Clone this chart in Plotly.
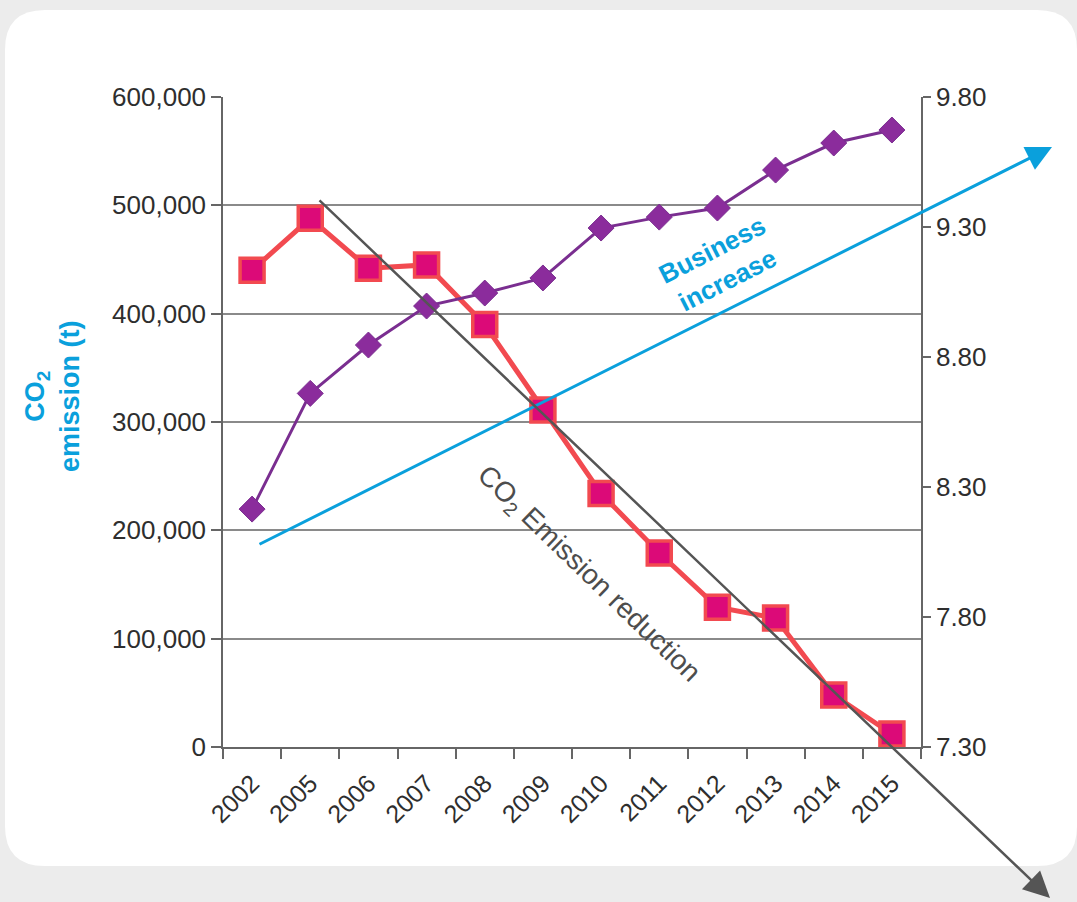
import plotly.graph_objects as go

years = ["2002", "2005", "2006", "2007", "2008", "2009", "2010", "2011", "2012", "2013", "2014", "2015"]
co2_emission = [440000, 488000, 442000, 445000, 390000, 311000, 234000, 179000, 129000, 119000, 48000, 12000]
business = [8.215, 8.66, 8.846, 8.996, 9.046, 9.104, 9.296, 9.338, 9.373, 9.519, 9.623, 9.673]
left_ticks = [0, 100000, 200000, 300000, 400000, 500000, 600000]
right_ticks = [7.30, 7.80, 8.30, 8.80, 9.30, 9.80]
right_ticktext = ["7.30", "7.80", "8.30", "8.80", "9.30", "9.80"]

W, H = 1077, 902
L, R, T, B = 223, 156, 97, 155
PW, PH = W - L - R, H - T - B


def px(x):
    return (x - L) / PW


def py(y):
    return (H - B - y) / PH


FONT = "Liberation Sans, Arial, sans-serif"
BLUE = "#0aa0dc"
GRAY = "#555555"
AXIS = "#666666"
TICK = "#2e2e2e"

fig = go.Figure()

fig.add_trace(go.Scatter(
    x=years, y=co2_emission, mode="lines+markers", name="CO2 emission",
    line=dict(color="#f24a50", width=5),
    marker=dict(symbol="square", size=24, color="#dc0a78",
                line=dict(color="#f24a50", width=3.5)),
    yaxis="y", showlegend=False,
))
fig.add_trace(go.Scatter(
    x=years, y=business, mode="lines+markers", name="Business",
    line=dict(color="#7a2e90", width=3),
    marker=dict(symbol="diamond", size=20, color="#8b2c9c",
                line=dict(color="#7a2e90", width=1)),
    yaxis="y2", showlegend=False,
))

# card background
x0, x1, y0, y1, r = 5, 1077, 10, 866, 40
path = (
    f"M {px(x0 + r)},{py(y0)} L {px(x1 - r)},{py(y0)} Q {px(x1)},{py(y0)} {px(x1)},{py(y0 + r)} "
    f"L {px(x1)},{py(y1 - r)} Q {px(x1)},{py(y1)} {px(x1 - r)},{py(y1)} "
    f"L {px(x0 + r)},{py(y1)} Q {px(x0)},{py(y1)} {px(x0)},{py(y1 - r)} "
    f"L {px(x0)},{py(y0 + r)} Q {px(x0)},{py(y0)} {px(x0 + r)},{py(y0)} Z"
)
fig.add_shape(type="path", path=path, xref="paper", yref="paper",
              fillcolor="white", line=dict(width=0), layer="below")

annotations = [
    # blue arrow
    dict(x=px(1052), y=py(147), xref="paper", yref="paper", text="",
         showarrow=True, ax=258 - 1052, ay=545 - 147, axref="pixel", ayref="pixel",
         arrowcolor=BLUE, arrowwidth=3, arrowhead=2, arrowsize=1.7, standoff=0),
    # gray arrow
    dict(x=px(1050), y=py(898), xref="paper", yref="paper", text="",
         showarrow=True, ax=318 - 1050, ay=199 - 898, axref="pixel", ayref="pixel",
         arrowcolor=GRAY, arrowwidth=2.5, arrowhead=2, arrowsize=2.1, standoff=0),
    dict(x=px(720), y=py(265), xref="paper", yref="paper",
         text="<b>Business<br>increase</b>", showarrow=False, textangle=-27,
         font=dict(family=FONT, size=26, color=BLUE), align="center",
         xanchor="center", yanchor="middle"),
    dict(x=px(588), y=py(574), xref="paper", yref="paper",
         text="CO<sub>2</sub> Emission reduction", showarrow=False, textangle=44,
         font=dict(family=FONT, size=28, color="#4d4d4d"),
         xanchor="center", yanchor="middle"),
    dict(x=px(52), y=py(396), xref="paper", yref="paper",
         text="<b>CO<sub>2</sub><br>emission (t)</b>", showarrow=False, textangle=-90,
         font=dict(family=FONT, size=27, color=BLUE), align="center",
         xanchor="center", yanchor="middle"),
]

fig.update_layout(
    width=W, height=H,
    margin=dict(l=L, r=R, t=T, b=B, pad=0),
    paper_bgcolor="#ececec",
    plot_bgcolor="rgba(0,0,0,0)",
    font=dict(family=FONT, size=25, color=TICK),
    annotations=annotations,
    xaxis=dict(
        type="category", categoryorder="array", categoryarray=years,
        range=[-0.5, 11.5], tickson="boundaries", ticks="outside", ticklen=10,
        tickcolor=AXIS, tickwidth=1.5, showline=True, linecolor=AXIS, linewidth=1.5,
        showgrid=False, tickangle=-45, ticklabelstandoff=10,
        tickfont=dict(size=25, color=TICK),
    ),
    yaxis=dict(
        range=[0, 600000], tickvals=left_ticks, tickformat=",", ticks="outside",
        ticklen=10, tickcolor=AXIS, tickwidth=1.5, showline=True, linecolor=AXIS,
        linewidth=1.5, showgrid=True, gridcolor="#8a8a8a", gridwidth=1.5,
        zeroline=False, tickfont=dict(size=26, color=TICK),
    ),
    yaxis2=dict(
        range=[7.30, 9.80], tickvals=right_ticks, ticktext=right_ticktext,
        overlaying="y", side="right", ticks="outside", ticklen=8, tickcolor=AXIS,
        tickwidth=1.5, showline=True, linecolor=AXIS, linewidth=1.5,
        showgrid=False, zeroline=False, tickfont=dict(size=26, color=TICK),
    ),
)

fig.write_html("out.html")
